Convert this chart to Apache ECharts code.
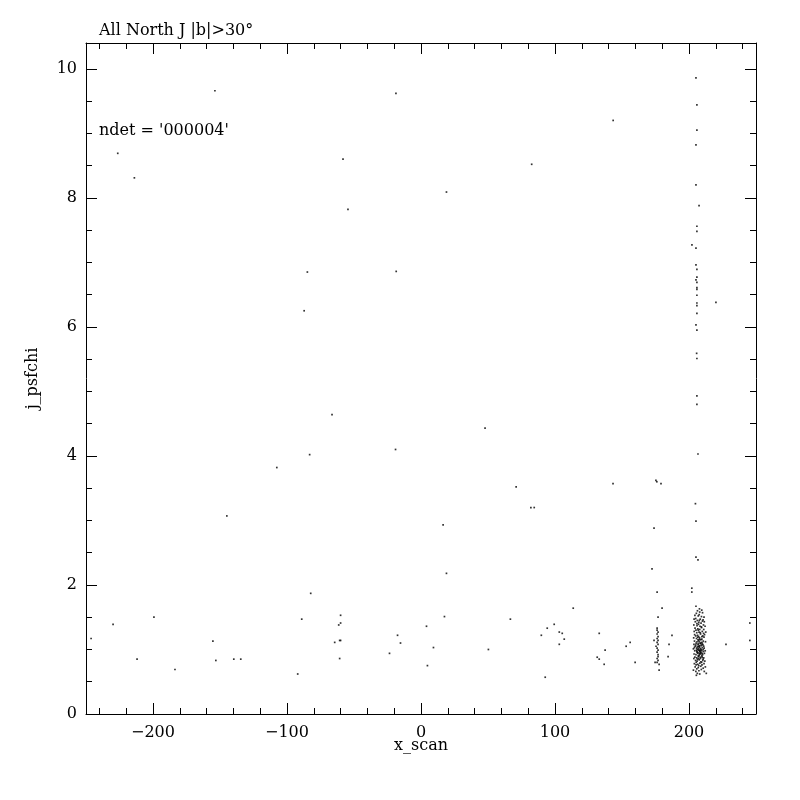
<!DOCTYPE html>
<html>
<head>
<meta charset="utf-8">
<script src="https://cdn.jsdelivr.net/npm/echarts@6/dist/echarts.min.js"></script>
<style>html,body{margin:0;padding:0;background:#fff}#c{width:800px;height:800px}</style>
</head>
<body>
<div id="c"></div>
<script>
// ---- data ----
const titleText = "All North J |b|>30°";
const noteText = "ndet = '000004'";
const xName = "x_scan";
const yName = "j_psfchi";
const xMajorTicks = [-200, -100, 0, 100, 200];
const xMinorTicks = [-240,-220,-180,-160,-140,-120,-80,-60,-40,-20,20,40,60,80,120,140,160,180,220,240];
const yMajorTicks = [0, 2, 4, 6, 8, 10];
const yMinorTicks = [0.5,1,1.5,2.5,3,3.5,4.5,5,5.5,6.5,7,7.5,8.5,9,9.5];

// scattered detections
const sparsePoints = [
 [-153.8,9.66],[-18.7,9.62],[-226.3,8.69],[-58.2,8.60],[-213.9,8.31],[-54.5,7.82],[-84.8,6.85],[-18.5,6.86],
 [-87.2,6.25],[-66.4,4.64],[-19.0,4.10],[-83.1,4.02],[-107.6,3.82],[-144.9,3.07],
 [143.4,9.20],[82.6,8.52],[19.0,8.09],[47.8,4.43],[16.5,2.93],[71.0,3.52],[82.0,3.20],[84.5,3.20],
 [143.3,3.57],[175.3,3.62],[176.0,3.60],[179.1,3.57],[173.9,2.88],[172.4,2.25],[176.2,1.89],[220.1,6.38],
 [-246.2,1.17],[-229.8,1.39],[-199.3,1.50],[-211.9,0.85],[-183.6,0.69],[-155.3,1.13],[-153.1,0.83],
 [-139.7,0.85],[-134.5,0.85],[-92.0,0.62],[-89.0,1.47],[-82.3,1.87],[-64.4,1.11],[-61.4,1.38],[-60.0,1.41],
 [-60.0,1.53],[-60.7,1.14],[-60.0,1.14],[-60.7,0.86],[-23.5,0.94],[-17.5,1.22],[-15.3,1.10],[4.1,1.36],
 [4.8,0.75],[9.3,1.03],[17.5,1.51],[19.0,2.18],[50.3,1.00],[66.7,1.47],[89.8,1.22],[92.7,0.57],[94.2,1.33],
 [99.4,1.39],[103.2,1.27],[105.4,1.25],[103.2,1.08],[106.9,1.16],[113.6,1.64],[133.0,1.25],[137.4,0.99],
 [131.5,0.88],[133.0,0.85],[136.7,0.77],[179.9,1.64],[176.9,1.50],[187.3,1.22],[185.1,1.08],[184.4,0.89],
 [153.1,1.05],[156.1,1.11],[159.8,0.80],[227.6,1.08],[245.4,1.41],[245.4,1.14]
];

// vertical streak near x = 206
const streakPoints = [
 [205.2,9.86],[205.9,9.44],[205.9,9.05],[205.2,8.82],[205.2,8.20],[207.5,7.88],[205.9,7.56],[205.9,7.48],
 [202.2,7.27],[205.2,7.22],[205.2,6.96],[205.9,6.89],[205.9,6.77],[205.2,6.73],[205.9,6.69],[205.9,6.61],
 [205.9,6.58],[205.9,6.49],[205.9,6.37],[205.9,6.33],[205.9,6.21],[205.2,6.03],[205.9,5.95],[205.7,5.59],
 [205.9,5.51],[205.9,4.93],[205.9,4.80],[206.7,4.03],[204.8,3.26],[205.2,2.99],[205.2,2.43],[206.7,2.39],
 [202.1,1.95],[202.1,1.89]
];

// column near x = 176
const columnPoints = [
 [176.2,1.33],[176.2,1.30],[176.9,1.27],[176.2,1.24],[176.9,1.20],[176.2,1.17],[173.9,1.14],[176.9,1.14],
 [176.2,1.11],[176.9,1.08],[175.4,1.05],[176.2,1.02],[176.9,0.99],[176.2,0.96],[176.9,0.92],[176.9,0.89],
 [176.2,0.86],[176.9,0.83],[174.7,0.80],[176.2,0.80],[177.7,0.77],[177.7,0.68]
];

// dense cluster near x = 208
const clusterPoints = [
 [205.2,1.67],[207.8,1.63],[209.5,1.61],[206.3,1.60],[208.0,1.58],[210.1,1.57],[205.5,1.56],
 [204.4,1.53],[206.9,1.52],[209.3,1.51],[211.2,1.50],[207.6,1.54],
 [205.0,1.48],[208.4,1.47],[210.5,1.46],[206.2,1.45],[203.8,1.47],
 [204.7,1.43],[207.3,1.42],[209.0,1.41],[211.4,1.43],[205.9,1.40],[210.0,1.44],
 [203.6,1.38],[206.0,1.37],[208.2,1.36],[210.8,1.38],[207.1,1.39],[212.0,1.36],
 [204.5,1.33],[206.6,1.32],[209.4,1.34],[211.0,1.31],[205.2,1.30],[208.0,1.31],
 [203.9,1.28],[207.5,1.27],[209.9,1.28],[205.8,1.26],[210.9,1.25],[212.5,1.27],
 [204.2,1.23],[206.4,1.22],[208.6,1.24],[210.3,1.21],[207.2,1.20],[205.0,1.21],[211.6,1.23],
 [203.5,1.18],[205.6,1.17],[207.9,1.18],[209.6,1.16],[211.2,1.19],[206.7,1.15],[208.8,1.15],
 [204.1,1.13],[206.0,1.12],[207.4,1.14],[209.2,1.11],[210.6,1.13],[212.3,1.12],[205.3,1.10],[208.3,1.10],
 [203.7,1.08],[205.1,1.07],[206.8,1.09],[208.0,1.06],[209.7,1.08],[211.0,1.05],[207.5,1.05],[210.4,1.07],[204.6,1.05],
 [204.0,1.03],[205.7,1.02],[207.1,1.04],[208.6,1.01],[209.9,1.03],[211.3,1.02],[206.4,1.00],[210.6,1.00],[208.0,1.03],[203.3,1.01],
 [204.3,0.98],[205.9,0.97],[207.3,0.99],[208.4,0.96],[209.5,0.98],[210.8,0.97],[212.1,0.98],[206.7,0.95],[209.0,0.95],[207.9,0.98],
 [203.8,0.93],[205.2,0.92],[206.5,0.94],[207.7,0.91],[208.9,0.93],[210.2,0.92],[211.5,0.94],[209.6,0.90],[206.9,0.90],[208.2,0.94],
 [204.4,0.88],[205.8,0.87],[207.2,0.89],[208.6,0.86],[209.8,0.88],[211.0,0.87],[206.3,0.85],[210.5,0.85],[203.6,0.86],
 [204.9,0.83],[206.1,0.82],[207.6,0.84],[208.9,0.81],[210.3,0.83],[211.8,0.82],[205.4,0.80],[209.4,0.80],
 [204.0,0.78],[206.6,0.77],[208.1,0.79],[209.7,0.76],[211.2,0.78],[207.3,0.75],[205.3,0.76],
 [204.6,0.73],[206.9,0.72],[208.8,0.74],[210.6,0.71],[205.8,0.70],[212.2,0.73],
 [203.3,0.68],[207.4,0.67],[209.2,0.69],[211.4,0.66],[205.1,0.66],
 [206.2,0.63],[208.0,0.62],[212.9,0.63],[205.5,0.60],
 [207.0,1.01],[208.3,0.99],[209.1,1.06],[206.2,1.04],[207.8,0.93],[208.7,1.09],[206.0,0.96],[209.3,1.00],
 [207.5,1.12],[208.5,0.88],[206.8,1.07],[209.9,0.94],[207.9,1.16],[205.6,0.99],[210.0,1.10],[208.1,0.97],
 [207.2,0.86],[206.5,1.19],[209.6,1.20],[208.4,1.26],[206.9,1.30],[207.7,1.45],[209.2,1.35]
];

// ---- chart ----
const FONT = "DejaVu Serif";
const X_MIN = -250, X_MAX = 250, Y_MIN = 0, Y_MAX = 10.4;
const lineStyle = { color: '#000', width: 1 };

function minus(v) { return String(v).replace('-', '\u2212'); }

function xAx(position, ticks, len, showLine, label, name) {
  return {
    type: 'value', position, min: X_MIN, max: X_MAX,
    axisLine: { show: showLine, onZero: false, lineStyle },
    axisTick: { show: true, inside: true, length: len, customValues: ticks, lineStyle },
    axisLabel: label ? { show: true, customValues: ticks, formatter: minus, color: '#000',
      fontFamily: FONT, fontSize: 16, margin: 11 } : { show: false },
    splitLine: { show: false },
    name: name || '', nameLocation: 'middle', nameGap: 24, nameMoveOverlap: false,
    nameTextStyle: { color: '#000', fontFamily: FONT, fontSize: 16 }
  };
}
function yAx(position, ticks, len, showLine, label, name) {
  return {
    type: 'value', position, min: Y_MIN, max: Y_MAX,
    axisLine: { show: showLine, onZero: false, lineStyle },
    axisTick: { show: true, inside: true, length: len, customValues: ticks, lineStyle },
    axisLabel: label ? { show: true, customValues: ticks, color: '#000',
      fontFamily: FONT, fontSize: 16, margin: 9 } : { show: false },
    splitLine: { show: false },
    name: name || '', nameLocation: 'middle', nameGap: 45, nameRotate: 90, nameMoveOverlap: false,
    nameTextStyle: { color: '#000', fontFamily: FONT, fontSize: 16 }
  };
}

const chart = echarts.init(document.getElementById('c'), null, { renderer: 'canvas' });
const dotStyle = { color: '#000' };
const mkSeries = (data) => ({
  type: 'scatter', xAxisIndex: 0, yAxisIndex: 0, data,
  symbol: 'rect', symbolSize: 1.7, itemStyle: dotStyle, silent: true
});

chart.setOption({
  animation: false,
  backgroundColor: '#fff',
  grid: { left: 86, right: 44, top: 43, bottom: 86, containLabel: false },
  xAxis: [
    xAx('bottom', xMajorTicks, 11, true, true, xName),
    xAx('bottom', xMinorTicks, 6, false, false),
    xAx('top', xMajorTicks, 11, true, false),
    xAx('top', xMinorTicks, 6, false, false)
  ],
  yAxis: [
    yAx('left', yMajorTicks, 11, true, true, yName),
    yAx('left', yMinorTicks, 6, false, false),
    yAx('right', yMajorTicks, 11, true, false),
    yAx('right', yMinorTicks, 6, false, false)
  ],
  graphic: [
    { type: 'text', left: 99, top: 23, style: { text: titleText, fill: '#000', font: '16px "DejaVu Serif"' } },
    { type: 'text', left: 99, top: 123, style: { text: noteText, fill: '#000', font: '16px "DejaVu Serif"' } }
  ],
  series: [
    mkSeries(sparsePoints), mkSeries(streakPoints), mkSeries(columnPoints), mkSeries(clusterPoints)
  ]
});
</script>
</body>
</html>
